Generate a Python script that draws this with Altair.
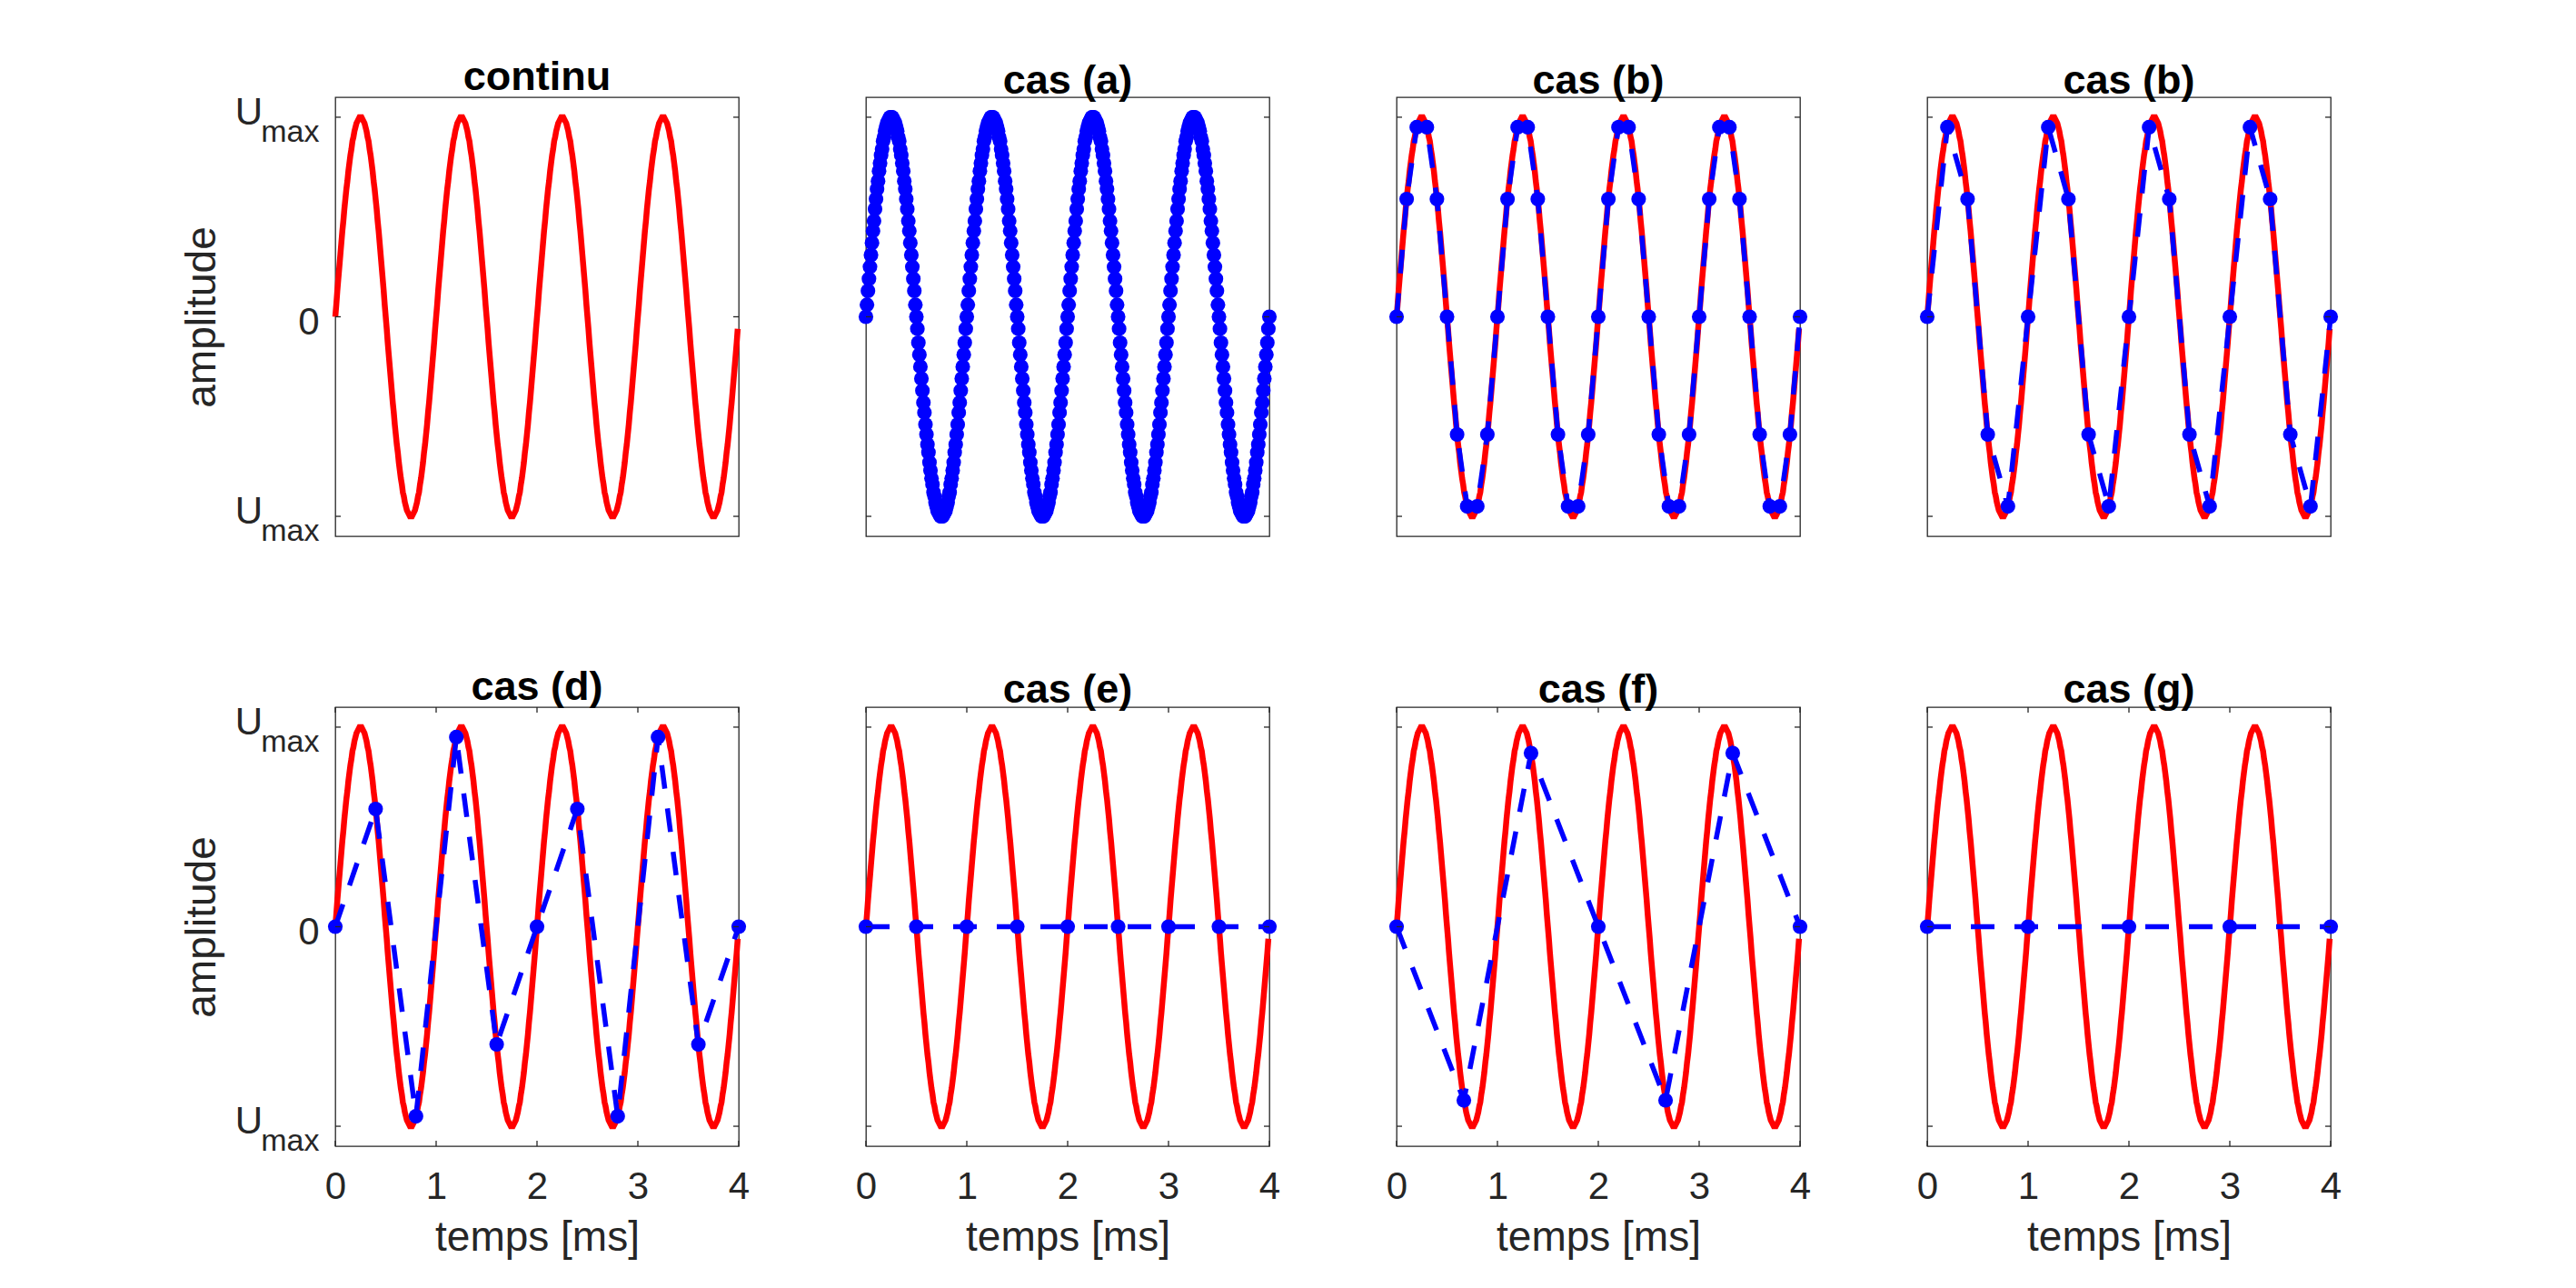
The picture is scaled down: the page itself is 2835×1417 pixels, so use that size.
import altair as alt
import pandas as pd

# ---------------- data ----------------
# dense sampling every 0.01 ms (case (a)); the continuous curve uses the same points up to 3.99 ms
t_dense = [
    0.00, 0.01, 0.02, 0.03, 0.04, 0.05, 0.06, 0.07, 0.08, 0.09, 0.10, 0.11, 0.12, 0.13, 0.14, 0.15, 0.16, 0.17, 0.18, 0.19,
    0.20, 0.21, 0.22, 0.23, 0.24, 0.25, 0.26, 0.27, 0.28, 0.29, 0.30, 0.31, 0.32, 0.33, 0.34, 0.35, 0.36, 0.37, 0.38, 0.39,
    0.40, 0.41, 0.42, 0.43, 0.44, 0.45, 0.46, 0.47, 0.48, 0.49, 0.50, 0.51, 0.52, 0.53, 0.54, 0.55, 0.56, 0.57, 0.58, 0.59,
    0.60, 0.61, 0.62, 0.63, 0.64, 0.65, 0.66, 0.67, 0.68, 0.69, 0.70, 0.71, 0.72, 0.73, 0.74, 0.75, 0.76, 0.77, 0.78, 0.79,
    0.80, 0.81, 0.82, 0.83, 0.84, 0.85, 0.86, 0.87, 0.88, 0.89, 0.90, 0.91, 0.92, 0.93, 0.94, 0.95, 0.96, 0.97, 0.98, 0.99,
    1.00, 1.01, 1.02, 1.03, 1.04, 1.05, 1.06, 1.07, 1.08, 1.09, 1.10, 1.11, 1.12, 1.13, 1.14, 1.15, 1.16, 1.17, 1.18, 1.19,
    1.20, 1.21, 1.22, 1.23, 1.24, 1.25, 1.26, 1.27, 1.28, 1.29, 1.30, 1.31, 1.32, 1.33, 1.34, 1.35, 1.36, 1.37, 1.38, 1.39,
    1.40, 1.41, 1.42, 1.43, 1.44, 1.45, 1.46, 1.47, 1.48, 1.49, 1.50, 1.51, 1.52, 1.53, 1.54, 1.55, 1.56, 1.57, 1.58, 1.59,
    1.60, 1.61, 1.62, 1.63, 1.64, 1.65, 1.66, 1.67, 1.68, 1.69, 1.70, 1.71, 1.72, 1.73, 1.74, 1.75, 1.76, 1.77, 1.78, 1.79,
    1.80, 1.81, 1.82, 1.83, 1.84, 1.85, 1.86, 1.87, 1.88, 1.89, 1.90, 1.91, 1.92, 1.93, 1.94, 1.95, 1.96, 1.97, 1.98, 1.99,
    2.00, 2.01, 2.02, 2.03, 2.04, 2.05, 2.06, 2.07, 2.08, 2.09, 2.10, 2.11, 2.12, 2.13, 2.14, 2.15, 2.16, 2.17, 2.18, 2.19,
    2.20, 2.21, 2.22, 2.23, 2.24, 2.25, 2.26, 2.27, 2.28, 2.29, 2.30, 2.31, 2.32, 2.33, 2.34, 2.35, 2.36, 2.37, 2.38, 2.39,
    2.40, 2.41, 2.42, 2.43, 2.44, 2.45, 2.46, 2.47, 2.48, 2.49, 2.50, 2.51, 2.52, 2.53, 2.54, 2.55, 2.56, 2.57, 2.58, 2.59,
    2.60, 2.61, 2.62, 2.63, 2.64, 2.65, 2.66, 2.67, 2.68, 2.69, 2.70, 2.71, 2.72, 2.73, 2.74, 2.75, 2.76, 2.77, 2.78, 2.79,
    2.80, 2.81, 2.82, 2.83, 2.84, 2.85, 2.86, 2.87, 2.88, 2.89, 2.90, 2.91, 2.92, 2.93, 2.94, 2.95, 2.96, 2.97, 2.98, 2.99,
    3.00, 3.01, 3.02, 3.03, 3.04, 3.05, 3.06, 3.07, 3.08, 3.09, 3.10, 3.11, 3.12, 3.13, 3.14, 3.15, 3.16, 3.17, 3.18, 3.19,
    3.20, 3.21, 3.22, 3.23, 3.24, 3.25, 3.26, 3.27, 3.28, 3.29, 3.30, 3.31, 3.32, 3.33, 3.34, 3.35, 3.36, 3.37, 3.38, 3.39,
    3.40, 3.41, 3.42, 3.43, 3.44, 3.45, 3.46, 3.47, 3.48, 3.49, 3.50, 3.51, 3.52, 3.53, 3.54, 3.55, 3.56, 3.57, 3.58, 3.59,
    3.60, 3.61, 3.62, 3.63, 3.64, 3.65, 3.66, 3.67, 3.68, 3.69, 3.70, 3.71, 3.72, 3.73, 3.74, 3.75, 3.76, 3.77, 3.78, 3.79,
    3.80, 3.81, 3.82, 3.83, 3.84, 3.85, 3.86, 3.87, 3.88, 3.89, 3.90, 3.91, 3.92, 3.93, 3.94, 3.95, 3.96, 3.97, 3.98, 3.99,
    4.00,
]
u_dense = [
    0.00, 0.06, 0.13, 0.19, 0.25, 0.31, 0.37, 0.43, 0.48, 0.54, 0.59, 0.64, 0.68, 0.73, 0.77, 0.81, 0.84, 0.88, 0.90, 0.93,
    0.95, 0.97, 0.98, 0.99, 1.00, 1.00, 1.00, 0.99, 0.98, 0.97, 0.95, 0.93, 0.90, 0.88, 0.84, 0.81, 0.77, 0.73, 0.68, 0.64,
    0.59, 0.54, 0.48, 0.43, 0.37, 0.31, 0.25, 0.19, 0.13, 0.06, 0.00, -0.06, -0.13, -0.19, -0.25, -0.31, -0.37, -0.43, -0.48, -0.54,
    -0.59, -0.64, -0.68, -0.73, -0.77, -0.81, -0.84, -0.88, -0.90, -0.93, -0.95, -0.97, -0.98, -0.99, -1.00, -1.00, -1.00, -0.99, -0.98, -0.97,
    -0.95, -0.93, -0.90, -0.88, -0.84, -0.81, -0.77, -0.73, -0.68, -0.64, -0.59, -0.54, -0.48, -0.43, -0.37, -0.31, -0.25, -0.19, -0.13, -0.06,
    0.00, 0.06, 0.13, 0.19, 0.25, 0.31, 0.37, 0.43, 0.48, 0.54, 0.59, 0.64, 0.68, 0.73, 0.77, 0.81, 0.84, 0.88, 0.90, 0.93,
    0.95, 0.97, 0.98, 0.99, 1.00, 1.00, 1.00, 0.99, 0.98, 0.97, 0.95, 0.93, 0.90, 0.88, 0.84, 0.81, 0.77, 0.73, 0.68, 0.64,
    0.59, 0.54, 0.48, 0.43, 0.37, 0.31, 0.25, 0.19, 0.13, 0.06, 0.00, -0.06, -0.13, -0.19, -0.25, -0.31, -0.37, -0.43, -0.48, -0.54,
    -0.59, -0.64, -0.68, -0.73, -0.77, -0.81, -0.84, -0.88, -0.90, -0.93, -0.95, -0.97, -0.98, -0.99, -1.00, -1.00, -1.00, -0.99, -0.98, -0.97,
    -0.95, -0.93, -0.90, -0.88, -0.84, -0.81, -0.77, -0.73, -0.68, -0.64, -0.59, -0.54, -0.48, -0.43, -0.37, -0.31, -0.25, -0.19, -0.13, -0.06,
    0.00, 0.06, 0.13, 0.19, 0.25, 0.31, 0.37, 0.43, 0.48, 0.54, 0.59, 0.64, 0.68, 0.73, 0.77, 0.81, 0.84, 0.88, 0.90, 0.93,
    0.95, 0.97, 0.98, 0.99, 1.00, 1.00, 1.00, 0.99, 0.98, 0.97, 0.95, 0.93, 0.90, 0.88, 0.84, 0.81, 0.77, 0.73, 0.68, 0.64,
    0.59, 0.54, 0.48, 0.43, 0.37, 0.31, 0.25, 0.19, 0.13, 0.06, 0.00, -0.06, -0.13, -0.19, -0.25, -0.31, -0.37, -0.43, -0.48, -0.54,
    -0.59, -0.64, -0.68, -0.73, -0.77, -0.81, -0.84, -0.88, -0.90, -0.93, -0.95, -0.97, -0.98, -0.99, -1.00, -1.00, -1.00, -0.99, -0.98, -0.97,
    -0.95, -0.93, -0.90, -0.88, -0.84, -0.81, -0.77, -0.73, -0.68, -0.64, -0.59, -0.54, -0.48, -0.43, -0.37, -0.31, -0.25, -0.19, -0.13, -0.06,
    0.00, 0.06, 0.13, 0.19, 0.25, 0.31, 0.37, 0.43, 0.48, 0.54, 0.59, 0.64, 0.68, 0.73, 0.77, 0.81, 0.84, 0.88, 0.90, 0.93,
    0.95, 0.97, 0.98, 0.99, 1.00, 1.00, 1.00, 0.99, 0.98, 0.97, 0.95, 0.93, 0.90, 0.88, 0.84, 0.81, 0.77, 0.73, 0.68, 0.64,
    0.59, 0.54, 0.48, 0.43, 0.37, 0.31, 0.25, 0.19, 0.13, 0.06, 0.00, -0.06, -0.13, -0.19, -0.25, -0.31, -0.37, -0.43, -0.48, -0.54,
    -0.59, -0.64, -0.68, -0.73, -0.77, -0.81, -0.84, -0.88, -0.90, -0.93, -0.95, -0.97, -0.98, -0.99, -1.00, -1.00, -1.00, -0.99, -0.98, -0.97,
    -0.95, -0.93, -0.90, -0.88, -0.84, -0.81, -0.77, -0.73, -0.68, -0.64, -0.59, -0.54, -0.48, -0.43, -0.37, -0.31, -0.25, -0.19, -0.13, -0.06,
    0.00,
]

# case (b): every 0.1 ms
t_b = [0.0, 0.1, 0.2, 0.3, 0.4, 0.5, 0.6, 0.7, 0.8, 0.9, 1.0, 1.1, 1.2, 1.3, 1.4, 1.5, 1.6, 1.7, 1.8, 1.9,
       2.0, 2.1, 2.2, 2.3, 2.4, 2.5, 2.6, 2.7, 2.8, 2.9, 3.0, 3.1, 3.2, 3.3, 3.4, 3.5, 3.6, 3.7, 3.8, 3.9, 4.0]
u_b = [0.00, 0.59, 0.95, 0.95, 0.59, 0.00, -0.59, -0.95, -0.95, -0.59,
       0.00, 0.59, 0.95, 0.95, 0.59, 0.00, -0.59, -0.95, -0.95, -0.59,
       0.00, 0.59, 0.95, 0.95, 0.59, 0.00, -0.59, -0.95, -0.95, -0.59,
       0.00, 0.59, 0.95, 0.95, 0.59, 0.00, -0.59, -0.95, -0.95, -0.59, 0.00]
# second "case (b)": every 0.2 ms
t_c = [0.0, 0.2, 0.4, 0.6, 0.8, 1.0, 1.2, 1.4, 1.6, 1.8, 2.0, 2.2, 2.4, 2.6, 2.8, 3.0, 3.2, 3.4, 3.6, 3.8, 4.0]
u_c = [0.00, 0.95, 0.59, -0.59, -0.95, 0.00, 0.95, 0.59, -0.59, -0.95,
       0.00, 0.95, 0.59, -0.59, -0.95, 0.00, 0.95, 0.59, -0.59, -0.95, 0.00]
# case (d): every 0.4 ms
t_d = [0.0, 0.4, 0.8, 1.2, 1.6, 2.0, 2.4, 2.8, 3.2, 3.6, 4.0]
u_d = [0.00, 0.59, -0.95, 0.95, -0.59, 0.00, 0.59, -0.95, 0.95, -0.59, 0.00]
# case (e): every 0.5 ms
t_e = [0.0, 0.5, 1.0, 1.5, 2.0, 2.5, 3.0, 3.5, 4.0]
u_e = [0.0, 0.0, 0.0, 0.0, 0.0, 0.0, 0.0, 0.0, 0.0]
# case (f): every 2/3 ms
t_f = [0.0, 0.667, 1.333, 2.0, 2.667, 3.333, 4.0]
u_f = [0.00, -0.87, 0.87, 0.00, -0.87, 0.87, 0.00]
# case (g): every 1 ms
t_g = [0.0, 1.0, 2.0, 3.0, 4.0]
u_g = [0.0, 0.0, 0.0, 0.0, 0.0]

titles = ["continu", "cas (a)", "cas (b)", "cas (b)", "cas (d)", "cas (e)", "cas (f)", "cas (g)"]
x_ticks = [0, 1, 2, 3, 4]
y_ticks = [-1, 0, 1]
umax_levels = [1, -1]

# ---------------- styling ----------------
W, H = 444, 483
AX = "#262626"
RED = "#FF0000"
BLUE = "#0000FF"
FONT = "Liberation Sans"

dense_df = pd.DataFrame({"t": t_dense, "u": u_dense})
red_df = dense_df[dense_df["t"] < 3.995]
ytick_df = pd.DataFrame({"v": y_ticks})
xtick_df = pd.DataFrame({"tv": x_ticks})
umax_df = pd.DataFrame({"v": umax_levels})

XS = alt.Scale(domain=[0, 4], nice=False, zero=False)
YS = alt.Scale(domain=[-1.1, 1.1], nice=False, zero=False)


def make_panel(title, samples, col, row, red=True, line=True):
    xa = None
    if row == 1:
        xa = alt.Axis(values=x_ticks, title="temps [ms]", grid=False, domain=False, ticks=False,
                      labelFontSize=42, labelColor=AX, labelFont=FONT, labelBaseline="alphabetic",
                      labelPadding=57, labelFlush=False, labelOverlap=False,
                      titleFontSize=46, titleColor=AX, titleFont=FONT, titleFontWeight="normal",
                      titleBaseline="alphabetic", titleY=114, titleX=W / 2, titleAlign="center")
    ya = None
    if col == 0:
        ya = alt.Axis(values=[0], title="amplitude", grid=False, domain=False, ticks=False,
                      labelFontSize=42, labelColor=AX, labelFont=FONT, labelBaseline="alphabetic",
                      labelPadding=18, labelOffset=19, labelOverlap=False,
                      titleFontSize=46, titleColor=AX, titleFont=FONT, titleFontWeight="normal",
                      titleBaseline="alphabetic", titleX=-133, titleY=H / 2, titleAngle=270,
                      titleAlign="center")

    def X(f):
        return alt.X(f, type="quantitative", scale=XS, axis=xa)

    def Y(f):
        return alt.Y(f, type="quantitative", scale=YS, axis=ya)

    layers = []
    if red:
        layers.append(alt.Chart(red_df).mark_line(color=RED, strokeWidth=6.5)
                      .encode(x=X("t"), y=Y("u")))
    if samples is not None:
        if line:
            layers.append(alt.Chart(samples).mark_line(color=BLUE, strokeWidth=5.5, strokeDash=[26, 22])
                          .encode(x=X("t"), y=Y("u")))
        layers.append(alt.Chart(samples).mark_circle(color=BLUE, size=260, opacity=1)
                      .encode(x=X("t"), y=Y("u")))
    # inward ticks (left & right)
    layers.append(alt.Chart(ytick_df).mark_rule(color=AX, strokeWidth=1.3)
                  .encode(y=Y("v"), x=alt.value(0), x2=alt.value(6)))
    layers.append(alt.Chart(ytick_df).mark_rule(color=AX, strokeWidth=1.3)
                  .encode(y=Y("v"), x=alt.value(W - 6), x2=alt.value(W)))
    if row == 1:
        layers.append(alt.Chart(xtick_df).mark_rule(color=AX, strokeWidth=1.3)
                      .encode(x=X("tv"), y=alt.value(H - 6), y2=alt.value(H)))
        layers.append(alt.Chart(xtick_df).mark_rule(color=AX, strokeWidth=1.3)
                      .encode(x=X("tv"), y=alt.value(0), y2=alt.value(6)))
    if col == 0:
        layers.append(alt.Chart(umax_df).mark_text(text="U", align="right", baseline="alphabetic",
                                                   fontSize=42, font=FONT, color=AX, dy=8)
                      .encode(y=Y("v"), x=alt.value(-80)))
        layers.append(alt.Chart(umax_df).mark_text(text="max", align="right", baseline="alphabetic",
                                                   fontSize=34, font=FONT, color=AX, dy=27)
                      .encode(y=Y("v"), x=alt.value(-17.5)))
    return alt.layer(*layers).properties(
        width=W, height=H,
        title=alt.TitleParams(title, fontSize=45, fontWeight="bold", font=FONT, color="#000000",
                              baseline="alphabetic", offset=-41, anchor="middle"),
    )


def df(t, u):
    return pd.DataFrame({"t": t, "u": u})


panels = [
    make_panel(titles[0], None, 0, 0),
    make_panel(titles[1], df(t_dense, u_dense), 1, 0, red=False, line=False),
    make_panel(titles[2], df(t_b, u_b), 2, 0),
    make_panel(titles[3], df(t_c, u_c), 3, 0),
    make_panel(titles[4], df(t_d, u_d), 0, 1),
    make_panel(titles[5], df(t_e, u_e), 1, 1),
    make_panel(titles[6], df(t_f, u_f), 2, 1),
    make_panel(titles[7], df(t_g, u_g), 3, 1),
]

chart = (
    alt.concat(*panels, columns=4, spacing={"row": 188, "column": 140}, bounds="flush")
    .properties(padding={"left": 190, "top": 54, "right": 5, "bottom": 5})
    .configure(font=FONT)
    .configure_view(stroke=AX, strokeWidth=1.3)
)

chart.save("out.html", embed_options={"renderer": "svg", "actions": False})
